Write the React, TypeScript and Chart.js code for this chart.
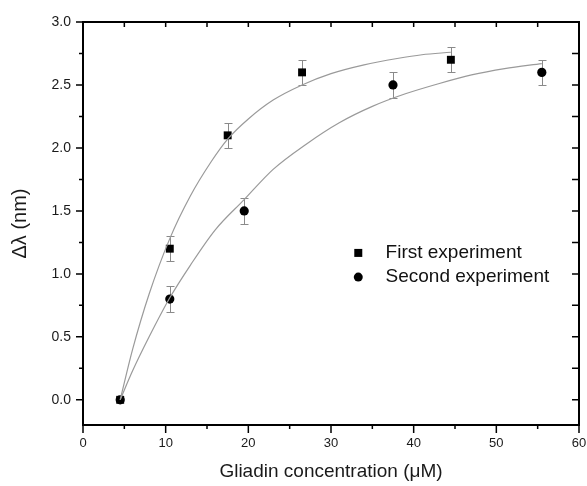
import React, { useEffect, useRef } from "react";
import { Chart, registerables } from "chart.js";

Chart.register(...registerables);

// ---- data ----
const firstX = [4.5, 10.5, 17.5, 26.5, 44.5];
const firstY = [0, 1.2, 2.1, 2.6, 2.7];
const firstErr = [0, 0.1, 0.1, 0.1, 0.1];

const secondX = [4.5, 10.5, 19.5, 37.5, 55.5];
const secondY = [0, 0.8, 1.5, 2.5, 2.6];
const secondErr = [0, 0.1, 0.1, 0.1, 0.1];

const fit1X = [4.5, 6, 8, 10.5, 13, 15.5, 17.5, 20, 23, 26.5, 30, 34, 38, 41, 44.5];
const fit1Y = [0, 0.4, 0.84, 1.28, 1.62, 1.89, 2.07, 2.23, 2.38, 2.5, 2.59, 2.66, 2.71, 2.74, 2.76];

const fit2X = [4.5, 6, 8, 10.5, 13, 16, 19.5, 23, 27, 31, 35, 39, 43, 47, 51, 55.5];
const fit2Y = [0, 0.23, 0.5, 0.81, 1.07, 1.35, 1.59, 1.83, 2.03, 2.2, 2.33, 2.43, 2.51, 2.58, 2.63, 2.67];

const xTicks = [0, 10, 20, 30, 40, 50, 60];
const xMinorTicks = [5, 15, 25, 35, 45, 55];
const yTicks = [0, 0.5, 1.0, 1.5, 2.0, 2.5, 3.0];
const yMinorTicks = [0.25, 0.75, 1.25, 1.75, 2.25, 2.75];

const seriesNames = ["First experiment", "Second experiment"];
const xTitle = "Gliadin concentration (\u03bcM)";
const yTitle = "\u0394\u03bb (nm)";

const FONT = "'Liberation Sans', Arial, Helvetica, sans-serif";

const zip = (xs: number[], ys: number[]) => xs.map((x, i) => ({ x, y: ys[i] }));

const bgPlugin = {
  id: "bg",
  beforeDraw(chart: any) {
    const ctx = chart.ctx;
    ctx.save();
    ctx.fillStyle = "#ffffff";
    ctx.fillRect(0, 0, chart.width, chart.height);
    ctx.restore();
  },
};

const errorBarPlugin = {
  id: "errbars",
  beforeDatasetsDraw(chart: any) {
    const ctx = chart.ctx;
    const yScale = chart.scales.y;
    ctx.save();
    ctx.strokeStyle = "#8a8a8a";
    ctx.lineWidth = 1;
    chart.data.datasets.forEach((ds: any, i: number) => {
      if (!ds.errors) return;
      const meta = chart.getDatasetMeta(i);
      meta.data.forEach((pt: any, j: number) => {
        const e = ds.errors[j];
        if (!e) return;
        const v = ds.data[j].y;
        const yTop = Math.round(yScale.getPixelForValue(v + e)) + 0.5;
        const yBot = Math.round(yScale.getPixelForValue(v - e)) + 0.5;
        const x = Math.round(pt.x) + 0.5;
        const cap = 4;
        ctx.beginPath();
        ctx.moveTo(x, yTop);
        ctx.lineTo(x, yBot);
        ctx.moveTo(x - cap, yTop);
        ctx.lineTo(x + cap, yTop);
        ctx.moveTo(x - cap, yBot);
        ctx.lineTo(x + cap, yBot);
        ctx.stroke();
      });
    });
    ctx.restore();
  },
};

const framePlugin = {
  id: "frame",
  afterDraw(chart: any) {
    const ctx = chart.ctx;
    const { left, right, top, bottom } = chart.chartArea;
    const xs = chart.scales.x;
    const ys = chart.scales.y;
    ctx.save();
    ctx.strokeStyle = "#000";
    ctx.lineWidth = 1.5;
    ctx.beginPath();
    xTicks.forEach((v) => {
      const p = xs.getPixelForValue(v);
      ctx.moveTo(p, bottom);
      ctx.lineTo(p, bottom + 8);
    });
    xMinorTicks.forEach((v) => {
      const p = xs.getPixelForValue(v);
      ctx.moveTo(p, bottom);
      ctx.lineTo(p, bottom + 4);
    });
    [...xTicks, ...xMinorTicks].forEach((v) => {
      const p = xs.getPixelForValue(v);
      ctx.moveTo(p, top);
      ctx.lineTo(p, top + 5);
    });
    yTicks.forEach((v) => {
      const p = ys.getPixelForValue(v);
      ctx.moveTo(left - 7, p);
      ctx.lineTo(left, p);
    });
    yMinorTicks.forEach((v) => {
      const p = ys.getPixelForValue(v);
      ctx.moveTo(left - 4, p);
      ctx.lineTo(left, p);
    });
    [...yTicks, ...yMinorTicks].forEach((v) => {
      const p = ys.getPixelForValue(v);
      ctx.moveTo(right - 7, p);
      ctx.lineTo(right, p);
    });
    ctx.stroke();
    ctx.lineWidth = 2;
    ctx.strokeRect(left, top, right - left, bottom - top);
    ctx.restore();
  },
};

const legendPlugin = {
  id: "customLegend",
  afterDraw(chart: any) {
    const ctx = chart.ctx;
    const { left, right, top, bottom } = chart.chartArea;
    const w = right - left;
    const h = bottom - top;
    const mx = left + w * 0.555;
    const tx = left + w * 0.61;
    const y1 = top + h * 0.573;
    const y2 = top + h * 0.633;
    ctx.save();
    ctx.fillStyle = "#000";
    ctx.fillRect(mx - 4, y1 - 4, 8, 8);
    ctx.beginPath();
    ctx.arc(mx, y2, 4.5, 0, Math.PI * 2);
    ctx.fill();
    ctx.font = `19px ${FONT}`;
    ctx.textBaseline = "middle";
    ctx.textAlign = "left";
    ctx.fillStyle = "#111";
    ctx.fillText(seriesNames[0], tx, y1);
    ctx.fillText(seriesNames[1], tx, y2);
    ctx.restore();
  },
};

export default function App() {
  const ref = useRef<HTMLCanvasElement | null>(null);

  useEffect(() => {
    if (!ref.current) return;
    const chart = new Chart(ref.current, {
      type: "scatter",
      data: {
        datasets: [
          {
            label: "fit1",
            data: zip(fit1X, fit1Y),
            showLine: true,
            borderColor: "#9a9a9a",
            borderWidth: 1.2,
            pointRadius: 0,
            cubicInterpolationMode: "monotone",
            fill: false,
          },
          {
            label: "fit2",
            data: zip(fit2X, fit2Y),
            showLine: true,
            borderColor: "#9a9a9a",
            borderWidth: 1.2,
            pointRadius: 0,
            cubicInterpolationMode: "monotone",
            fill: false,
          },
          {
            label: seriesNames[0],
            data: zip(firstX, firstY),
            errors: firstErr,
            showLine: false,
            pointStyle: "rect",
            pointRadius: 5.6,
            backgroundColor: "#000",
            borderColor: "#000",
            borderWidth: 0,
          } as any,
          {
            label: seriesNames[1],
            data: zip(secondX, secondY),
            errors: secondErr,
            showLine: false,
            pointStyle: "circle",
            pointRadius: 4.6,
            backgroundColor: "#000",
            borderColor: "#000",
            borderWidth: 0,
          } as any,
        ],
      },
      options: {
        animation: false,
        responsive: false,
        maintainAspectRatio: false,
        layout: { padding: { top: 22, right: 8, left: 0, bottom: 0 } },
        plugins: {
          legend: { display: false },
          tooltip: { enabled: false },
        },
        scales: {
          x: {
            type: "linear",
            min: 0,
            max: 60,
            afterBuildTicks: (scale: any) => {
              scale.ticks = xTicks.map((v) => ({ value: v }));
            },
            afterFit: (scale: any) => {
              scale.height = 61;
              scale.paddingLeft = 0;
              scale.paddingRight = 0;
            },
            grid: { display: false, drawTicks: false },
            border: { display: false },
            ticks: {
              padding: 11,
              color: "#1a1a1a",
              font: { family: FONT, size: 13 },
              callback: (v: any) => String(v),
            },
            title: {
              display: true,
              text: xTitle,
              color: "#1a1a1a",
              font: { family: FONT, size: 19 },
              padding: { top: 0, bottom: 3 },
            },
          },
          y: {
            type: "linear",
            min: -0.2,
            max: 3.0,
            afterBuildTicks: (scale: any) => {
              scale.ticks = yTicks.map((v) => ({ value: v }));
            },
            afterFit: (scale: any) => {
              scale.width = 83;
            },
            grid: { display: false, drawTicks: false },
            border: { display: false },
            ticks: {
              padding: 12,
              color: "#1a1a1a",
              font: { family: FONT, size: 14 },
              callback: (v: any) => Number(v).toFixed(1),
            },
            title: {
              display: true,
              text: yTitle,
              color: "#1a1a1a",
              font: { family: FONT, size: 20 },
              padding: { top: 8, bottom: 0 },
            },
          },
        },
      },
      plugins: [bgPlugin, errorBarPlugin, framePlugin, legendPlugin],
    });
    return () => chart.destroy();
  }, []);

  return (
    <div style={{ position: "fixed", left: 0, top: 0, width: 587, height: 486, background: "#fff" }}>
      <canvas ref={ref} width={587} height={486} style={{ display: "block" }} />
    </div>
  );
}
